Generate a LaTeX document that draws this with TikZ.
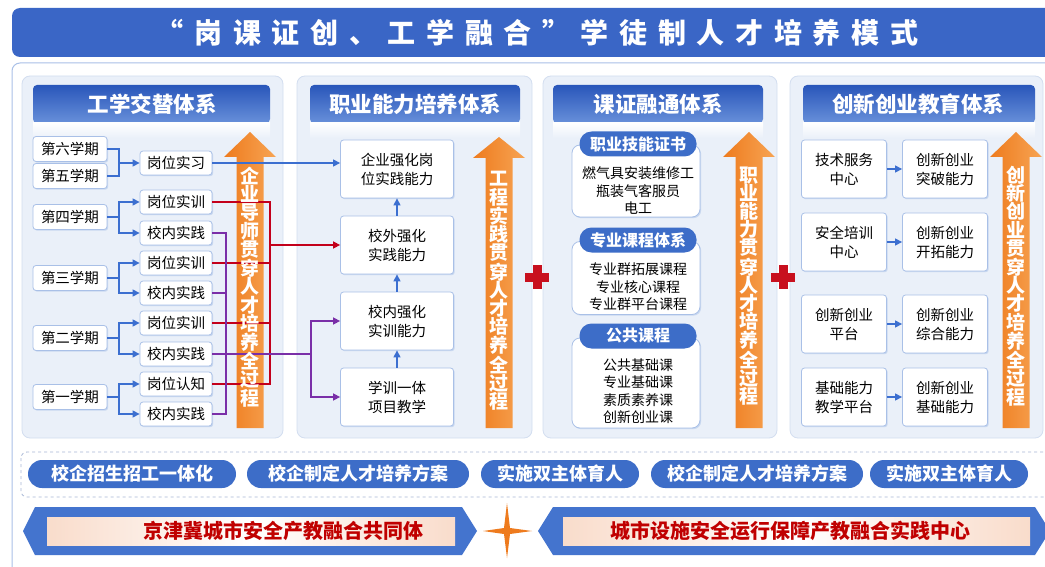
\documentclass[tikz,border=0pt]{standalone}
\usepackage{fontspec}
\setmainfont{Noto Sans CJK SC}
\usetikzlibrary{arrows.meta,shadows}

\definecolor{titleblue}{HTML}{3A66C6}
\definecolor{headdark}{HTML}{2956BA}
\definecolor{headlight}{HTML}{6890DA}
\definecolor{panelfill}{HTML}{EAF0F9}
\definecolor{panelline}{HTML}{D3DEF0}
\definecolor{boxline}{HTML}{A9C0E7}
\definecolor{boxshadow}{HTML}{C9D8F0}
\definecolor{linkblue}{HTML}{3C6FD0}
\definecolor{linkred}{HTML}{C3001B}
\definecolor{linkpurple}{HTML}{7A2FA8}
\definecolor{arrowdark}{HTML}{EE7B1E}
\definecolor{arrowlight}{HTML}{F7A453}
\definecolor{plusred}{HTML}{C8101E}
\definecolor{pillblue}{HTML}{3D6DC8}
\definecolor{bannerblue}{HTML}{4474CE}
\definecolor{bannertext}{HTML}{C00000}
\definecolor{peach}{HTML}{F9DCCB}
\definecolor{dashline}{HTML}{A8B8D6}

\newcommand{\shafthalf}{13.5}
\newcommand{\headhalf}{26}

% orange arrow: center x, tip y, head base y, bottom y
\newcommand{\uparrowbar}[4]{%
  \shade[left color=arrowdark, right color=arrowlight]
    ({#1-\shafthalf},#4) -- ({#1-\shafthalf},#3) -- ({#1-\headhalf},#3) -- (#1,#2)
    -- ({#1+\headhalf},#3) -- ({#1+\shafthalf},#3) -- ({#1+\shafthalf},#4) -- cycle;}
\newcommand{\plussign}[2]{%
  \fill[plusred] ({#1-4.5},{#2-12}) rectangle ({#1+4.5},{#2+12});
  \fill[plusred] ({#1-12},{#2-4.5}) rectangle ({#1+12},{#2+4.5});}

\begin{document}
\begin{tikzpicture}[x=1pt,y=-1pt,
  box/.style={draw=boxline, fill=white, line width=.8pt, rounded corners=3pt, align=center, inner sep=1pt,
    drop shadow={shadow xshift=1.2pt, shadow yshift=-1.2pt, fill=boxshadow, opacity=1}},
  term/.style={box, minimum width=74pt, minimum height=25pt, font=\fontsize{14.5}{16}\selectfont},
  task/.style={box, minimum width=72pt, minimum height=24pt, font=\fontsize{14.5}{16}\selectfont},
  skill/.style={box, minimum width=113pt, minimum height=58pt, font=\fontsize{14.5}{19}\selectfont},
  hub/.style={box, minimum width=85pt, minimum height=58pt, font=\fontsize{14.5}{19}\selectfont},
  course/.style={box, rounded corners=8pt, minimum width=128pt},
  coursetext/.style={align=center, inner sep=0pt, font=\fontsize{14}{17.5}\selectfont},
  coursehead/.style={fill=pillblue, text=white, rounded corners=12pt, minimum width=117pt, minimum height=25pt,
    inner sep=0pt, font=\bfseries\fontsize{16}{18}\selectfont},
  panel/.style={fill=panelfill, draw=panelline, line width=.8pt, rounded corners=8pt},
  headbar/.style={top color=headdark, bottom color=headlight, rounded corners=4pt},
  headtext/.style={text=white, font=\bfseries\fontsize{21.5}{24}\selectfont},
  vtext/.style={text=white, align=center, inner sep=0pt, font=\bfseries\fontsize{19}{18.2}\selectfont},
  tag/.style={fill=pillblue, text=white, rounded corners=14pt, minimum height=28pt, inner sep=0pt,
    font=\bfseries\fontsize{18}{20}\selectfont},
  bannertxt/.style={text=bannertext, font=\bfseries\fontsize{20}{22}\selectfont},
  bl/.style={linkblue, line width=1.2pt},
  rl/.style={linkred, line width=1.5pt},
  pl/.style={linkpurple, line width=1.5pt},
  arr/.style={-{Triangle[length=7pt,width=7pt]}},
]
\useasboundingbox (0,0) rectangle (1045,567);
\clip (0,0) rectangle (1045,567);

% title
\fill[titleblue, rounded corners=8pt] (12,8) rectangle (1075,57);
\node[text=white, font=\bfseries\fontsize{28}{30}\selectfont\addfontfeatures{LetterSpace=38}] (title) at (537,33) {“岗课证创、工学融合”学徒制人才培养模式};

\filldraw[fill=white, draw=boxline, line width=1pt, rounded corners=8pt] (12,63) rectangle (1075,600);

% four panels
\filldraw[panel] (22,76) rectangle (283,438);
\filldraw[panel] (297,76) rectangle (532,438);
\filldraw[panel] (543,76) rectangle (777,438);
\filldraw[panel] (790,76) rectangle (1043,438);

\shade[headbar] (33,85) rectangle (270,123);
\shade[headbar] (310,85) rectangle (520,123);
\shade[headbar] (553,85) rectangle (763,123);
\shade[headbar] (803,85) rectangle (1035,123);
\shade[top color=white, bottom color=panelfill] (33,123) rectangle (270,138);
\shade[top color=white, bottom color=panelfill] (310,123) rectangle (520,138);
\shade[top color=white, bottom color=panelfill] (553,123) rectangle (763,138);
\shade[top color=white, bottom color=panelfill] (803,123) rectangle (1035,138);
\node[headtext] (h1) at (152,104) {工学交替体系};
\node[headtext] (h2) at (415,104) {职业能力培养体系};
\node[headtext] (h3) at (658,104) {课证融通体系};
\node[headtext] (h4) at (918,104) {创新创业教育体系};

\uparrowbar{250}{132}{157}{428}
\uparrowbar{499}{137}{158}{428}
\uparrowbar{749}{132}{157}{428}
\uparrowbar{1016}{132}{157}{428}

% column 1
\node[term] (s6) at (70,149) {第六学期};
\node[term] (s5) at (70,176) {第五学期};
\node[term] (s4) at (70,217) {第四学期};
\node[term] (s3) at (70,278) {第三学期};
\node[term] (s2) at (70,338) {第二学期};
\node[term] (s1) at (70,397) {第一学期};

\node[task] (gx) at (176,163) {岗位实习};
\node[task] (g4) at (176,202) {岗位实训};
\node[task] (x4) at (176,233) {校内实践};
\node[task] (g3) at (176,263) {岗位实训};
\node[task] (x3) at (176,293) {校内实践};
\node[task] (g2) at (176,323) {岗位实训};
\node[task] (x2) at (176,354) {校内实践};
\node[task] (g1) at (176,384) {岗位认知};
\node[task] (x1) at (176,414) {校内实践};

\coordinate (j65) at (119,163);
\coordinate (j4) at (119,217);
\coordinate (j3) at (119,278);
\coordinate (j2) at (119,338);
\coordinate (j1) at (119,397);
\draw[bl] (s6.east) -| (j65);
\draw[bl] (s5.east) -| (j65);
\draw[bl,arr] (j65) -- (gx.west);
\draw[bl] (s4.east) -- (j4);
\draw[bl,arr] (j4) |- (g4.west);
\draw[bl,arr] (j4) |- (x4.west);
\draw[bl] (s3.east) -- (j3);
\draw[bl,arr] (j3) |- (g3.west);
\draw[bl,arr] (j3) |- (x3.west);
\draw[bl] (s2.east) -- (j2);
\draw[bl,arr] (j2) |- (g2.west);
\draw[bl,arr] (j2) |- (x2.west);
\draw[bl] (s1.east) -- (j1);
\draw[bl,arr] (j1) |- (g1.west);
\draw[bl,arr] (j1) |- (x1.west);

% column 2
\node[skill] (c1) at (397,169) {企业强化岗\\位实践能力};
\node[skill] (c2) at (397,245) {校外强化\\实践能力};
\node[skill] (c3) at (397,321) {校内强化\\实训能力};
\node[skill] (c4) at (397,397) {学训一体\\项目教学};
\draw[bl,arr] (c4.north) -- (c3.south);
\draw[bl,arr] (c3.north) -- (c2.south);
\draw[bl,arr] (c2.north) -- (c1.south);

\draw[bl,arr] (gx.east) -- (gx.east -| c1.west);

\coordinate (rj) at (270,245);
\draw[rl] (g4.east) -| (rj);
\draw[rl] (g3.east) -| (rj);
\draw[rl] (g2.east) -| (rj);
\draw[rl] (g1.east) -| (rj);
\draw[rl,arr] (rj) -- (c2.west);

\coordinate (pj) at (226,354);
\coordinate (pk) at (311,354);
\draw[pl] (x4.east) -| (pj);
\draw[pl] (x3.east) -| (pj);
\draw[pl] (x2.east) -- (pj);
\draw[pl] (x1.east) -| (pj);
\draw[pl] (pj) -- (pk);
\draw[pl,arr] (pk) |- (c3.west);
\draw[pl,arr] (pk) |- (c4.west);

\node[vtext] (v1) at (250,287) {企\\业\\导\\师\\贯\\穿\\人\\才\\培\\养\\全\\过\\程};
\node[vtext] (v2) at (499,291) {工\\程\\实\\践\\贯\\穿\\人\\才\\培\\养\\全\\过\\程};
\node[vtext] (v3) at (749,286) {职\\业\\能\\力\\贯\\穿\\人\\才\\培\\养\\全\\过\\程};
\node[vtext] (v4) at (1016,286) {创\\新\\创\\业\\贯\\穿\\人\\才\\培\\养\\全\\过\\程};

\plussign{537}{277}
\plussign{783}{277}

% column 3
\node[course, minimum height=72pt] (k1) at (636,181) {};
\node[course, minimum height=73pt] (k2) at (636,278) {};
\node[course, minimum height=90pt] (k3) at (636,383) {};
\node[coursehead] (kh1) at (638,144) {职业技能证书};
\node[coursehead] (kh2) at (638,240) {专业课程体系};
\node[coursehead] (kh3) at (638,336) {公共课程};
\node[coursetext] (kt1) at (638,191) {燃气具安装维修工\\瓶装气客服员\\电工};
\node[coursetext] (kt2) at (638,287) {专业群拓展课程\\专业核心课程\\专业群平台课程};
\node[coursetext] (kt3) at (638,391) {公共基础课\\专业基础课\\素质素养课\\创新创业课};

% column 4
\node[hub] (t1) at (844,169) {技术服务\\中心};
\node[hub] (t2) at (844,242) {安全培训\\中心};
\node[hub] (t3) at (844,324) {创新创业\\平台};
\node[hub] (t4) at (844,397) {基础能力\\教学平台};
\node[hub] (u1) at (945,169) {创新创业\\突破能力};
\node[hub] (u2) at (945,242) {创新创业\\开拓能力};
\node[hub] (u3) at (945,324) {创新创业\\综合能力};
\node[hub] (u4) at (945,397) {创新创业\\基础能力};
\draw[bl,arr] (t1.east) -- (u1.west);
\draw[bl,arr] (t2.east) -- (u2.west);
\draw[bl,arr] (t3.east) -- (u3.west);
\draw[bl,arr] (t4.east) -- (u4.west);

% bottom rows
\draw[dashline, dashed, line width=.8pt, rounded corners=6pt] (21,452) rectangle (1070,497);
\node[tag, minimum width=208pt] (b1) at (132,474) {校企招生招工一体化};
\node[tag, minimum width=222pt] (b2) at (358,474) {校企制定人才培养方案};
\node[tag, minimum width=158pt] (b3) at (560,474) {实施双主体育人};
\node[tag, minimum width=212pt] (b4) at (757,474) {校企制定人才培养方案};
\node[tag, minimum width=158pt] (b5) at (949,474) {实施双主体育人};

\fill[bannerblue] (23,531) -- (35,507) -- (462,507) -- (477,531) -- (462,555) -- (35,555) -- cycle;
\shade[left color=peach, right color=peach, middle color=white] (47,517) rectangle (455,545);
\fill[bannerblue] (538,531) -- (553,507) -- (1035,507) -- (1050,531) -- (1035,555) -- (553,555) -- cycle;
\shade[left color=peach, right color=peach, middle color=white] (563,517) rectangle (1030,545);
\node[bannertxt] (L) at (283,531) {京津冀城市安全产教融合共同体};
\node[bannertxt] (R) at (790,531) {城市设施安全运行保障产教融合实践中心};

\fill[arrowdark] (507,503) -- (510,528) -- (532,531) -- (510,534) -- (507,558) -- (504,534) -- (483,531) -- (504,528) -- cycle;

\end{tikzpicture}
\end{document}
